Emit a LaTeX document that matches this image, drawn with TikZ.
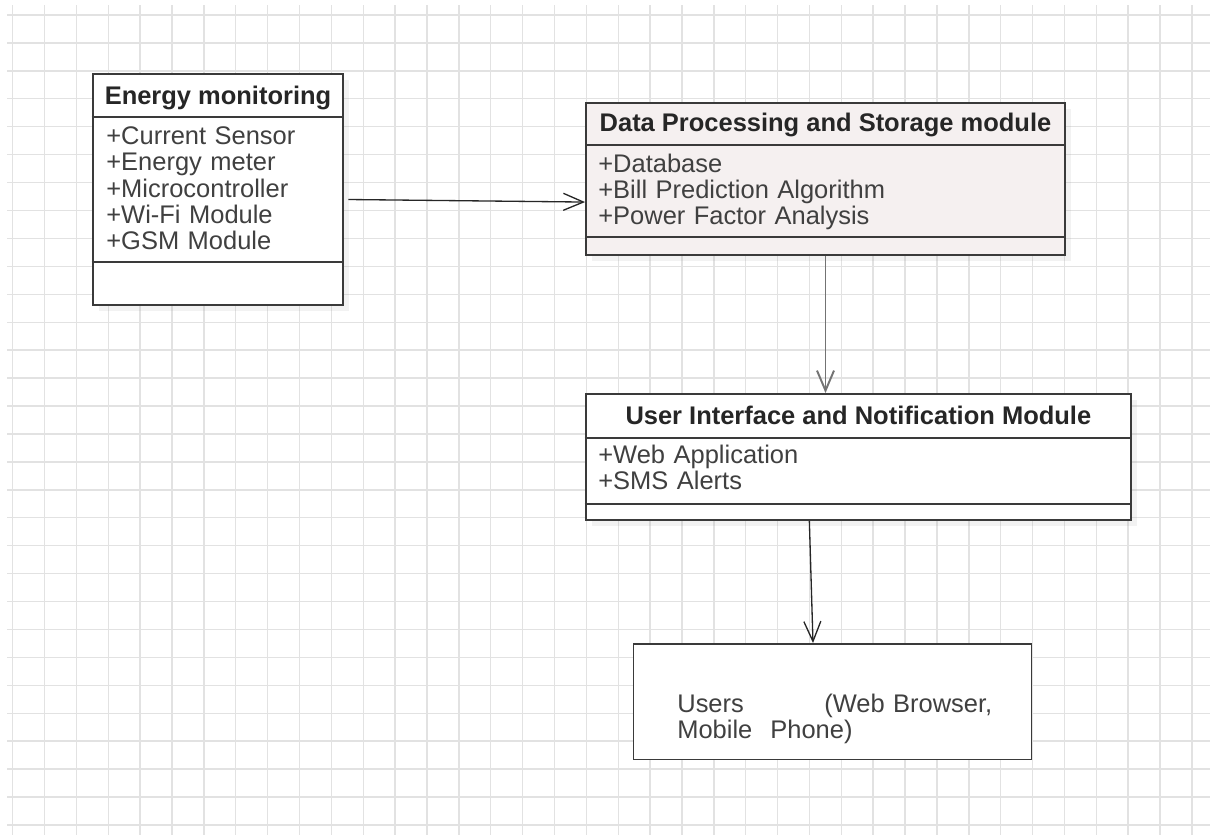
\documentclass[tikz,border=0pt]{standalone}
\usepackage{fontspec}
\setmainfont{Liberation Sans}
\usetikzlibrary{calc,fit,shadows,arrows.meta}
\definecolor{gridgray}{HTML}{E2E2E2}
\definecolor{boxline}{HTML}{3A3A3A}
\definecolor{dpfill}{HTML}{F5F0F0}

\begin{document}
\begin{tikzpicture}
  [x=0.02cm, y=-0.02cm,
   gridline/.style={gridgray, line width=0.8pt},
   cls/.style={
     draw=boxline,
     line width=1.1pt,
     fill=white,
     inner sep=0pt,
     drop shadow={shadow xshift=0.12cm, shadow yshift=-0.12cm, opacity=0.1}},
   divider/.style={boxline, line width=1.1pt},
   clstitle/.style={anchor=base, inner sep=0pt, text=black!85,
     font=\bfseries\fontsize{14.5}{15}\selectfont},
   clsattr/.style={anchor=base west, inner sep=0pt, text=black!75,
     text width=8cm, align=left, font=\fontsize{14.5}{15}\selectfont},
   arrowline/.style={line width=0.75pt,
     -{Straight Barb[length=0.4cm, width=0.34cm]}}]
  \useasboundingbox[fill=white] (0,0) rectangle (1214,839);

  % background grid
  \foreach \i in {0,...,37}
    \draw[gridline] ({12.7+31.87*\i},5) -- ({12.7+31.87*\i},835);
  \foreach \j in {0,...,29}
    \draw[gridline] (7,{15+27.93*\j}) -- (1210,{15+27.93*\j});

  % energy monitoring
  \node[cls, fit={(92.7,74) (343.3,305)}] (energy) {};
  \draw[divider] (energy.west |- 0,117.3) -- (energy.east |- 0,117.3);
  \draw[divider] (energy.west |- 0,261.7) -- (energy.east |- 0,261.7);
  \node[clstitle] (energytitle) at (energy.north |- 0,104) {Energy monitoring};
  \node[clsattr] (energyattr) at (106,144.5)
    {+Current Sensor\\+Energy meter\\+Microcontroller\\+Wi-Fi Module\\+GSM Module};

  % data processing
  \node[cls, fill=dpfill, fit={(586,102.7) (1065,255)}] (data) {};
  \draw[divider] (data.west |- 0,145) -- (data.east |- 0,145);
  \draw[divider] (data.west |- 0,236.7) -- (data.east |- 0,236.7);
  \node[clstitle] (datatitle) at (data.north |- 0,131.7) {Data Processing and Storage module};
  \node[clsattr] (dataattr) at (598,172)
    {+Database\\+Bill Prediction Algorithm\\+Power Factor Analysis};

  % user interface
  \node[cls, fit={(585.7,394) (1131,520)}] (ui) {};
  \draw[divider] (ui.west |- 0,438.3) -- (ui.east |- 0,438.3);
  \draw[divider] (ui.west |- 0,504) -- (ui.east |- 0,504);
  \node[clstitle] (uititle) at (ui.north |- 0,424.3) {User Interface and Notification Module};
  \node[clsattr] (uiattr) at (598,463.3)
    {+Web Application\\+SMS Alerts};

  % users
  \node[draw=boxline, line width=1.1pt, fill=white, inner sep=0pt,
    fit={(633.5,644) (1031.5,759.5)}] (users) {};
  \node[anchor=base west, inner sep=0pt, text=black!75, text width=6.3cm, align=left,
    font=\fontsize{14.5}{13.2}\selectfont] (userstext) at (677,712.7)
    {Users\hfill(Web Browser,\\Mobile\hspace{0.36cm}Phone)};

  \draw[arrowline, black!85] ($(energy.east)+(4,10)$) -- ($(data.west)+(0,23.2)$);
  \draw[arrowline, black!55, line width=1.1pt] (data.south) -- (data.south |- ui.north);
  \draw[arrowline, black!85] ($(ui.south)+(-49,0)$) -- ($(users.north)+(-19.5,0)$);
\end{tikzpicture}
\end{document}
